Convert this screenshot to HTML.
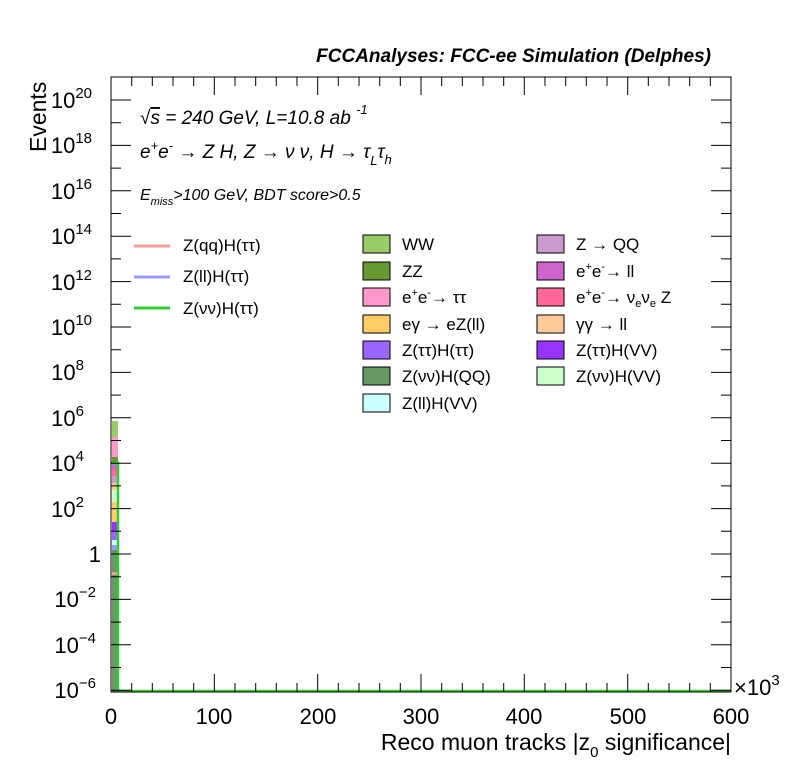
<!DOCTYPE html>
<html><head><meta charset="utf-8"><style>
body{margin:0;background:#fff;}
svg text{font-family:"Liberation Sans",sans-serif;}
</style></head><body>
<svg width="796" height="772" xmlns="http://www.w3.org/2000/svg">
<rect width="796" height="772" fill="#fff"/>
<g shape-rendering="crispEdges">
<rect x="112" y="421" width="6" height="16" fill="#99cc66"/>
<rect x="112" y="437" width="6" height="20" fill="#ff99cc"/>
<rect x="112" y="457" width="6" height="7" fill="#669933"/>
<rect x="112" y="464" width="6" height="6" fill="#cc66cc"/>
<rect x="112" y="470" width="6" height="6" fill="#ff6699"/>
<rect x="112" y="476" width="6" height="7" fill="#cc99cc"/>
<rect x="112" y="483" width="6" height="7" fill="#ffcc99"/>
<rect x="112" y="490" width="6" height="12" fill="#ccffcc"/>
<rect x="112" y="502" width="6" height="20" fill="#ffcc66"/>
<rect x="112" y="522" width="6" height="9" fill="#9933ff"/>
<rect x="112" y="531" width="6" height="9" fill="#9966ff"/>
<rect x="112" y="540" width="6" height="5" fill="#ccffff"/>
<rect x="112" y="545" width="6" height="5" fill="#9999ff"/>
<rect x="112" y="550" width="6" height="142" fill="#669966"/>
<rect x="112" y="572" width="5" height="3" fill="#ff9999"/>
</g>
<path d="M111 463 H118 V691 H731" fill="none" stroke="#33cc33" stroke-width="2.5"/>
<rect x="111" y="77" width="620" height="615" fill="none" stroke="#000" stroke-width="1"/>
<g stroke="#000" stroke-width="1">
<path d="M111 100h20M111 145.4h20M111 190.8h20M111 236.2h20M111 281.6h20M111 327h20M111 372.4h20M111 417.8h20M111 463.2h20M111 508.6h20M111 554h20M111 599.4h20M111 644.8h20M111 690.2h20
M111 122.7h10M111 168.1h10M111 213.5h10M111 258.9h10M111 304.3h10M111 349.7h10M111 395.1h10M111 440.5h10M111 485.9h10M111 531.3h10M111 576.7h10M111 622.1h10M111 667.5h10
M731 100h-20M731 145.4h-20M731 190.8h-20M731 236.2h-20M731 281.6h-20M731 327h-20M731 372.4h-20M731 417.8h-20M731 463.2h-20M731 508.6h-20M731 554h-20M731 599.4h-20M731 644.8h-20M731 690.2h-20
M731 122.7h-10M731 168.1h-10M731 213.5h-10M731 258.9h-10M731 304.3h-10M731 349.7h-10M731 395.1h-10M731 440.5h-10M731 485.9h-10M731 531.3h-10M731 576.7h-10M731 622.1h-10M731 667.5h-10"/>
<path d="M214.3 692v-18M317.7 692v-18M421 692v-18M524.3 692v-18M627.7 692v-18
M131.7 692v-9M152.3 692v-9M173 692v-9M193.7 692v-9M235 692v-9M255.7 692v-9M276.3 692v-9M297 692v-9M338.3 692v-9M359 692v-9M379.7 692v-9M400.3 692v-9M441.7 692v-9M462.3 692v-9M483 692v-9M503.7 692v-9M545 692v-9M565.7 692v-9M586.3 692v-9M607 692v-9M648.3 692v-9M669 692v-9M689.7 692v-9M710.3 692v-9
M214.3 77v18M317.7 77v18M421 77v18M524.3 77v18M627.7 77v18
M131.7 77v9M152.3 77v9M173 77v9M193.7 77v9M235 77v9M255.7 77v9M276.3 77v9M297 77v9M338.3 77v9M359 77v9M379.7 77v9M400.3 77v9M441.7 77v9M462.3 77v9M483 77v9M503.7 77v9M545 77v9M565.7 77v9M586.3 77v9M607 77v9M648.3 77v9M669 77v9M689.7 77v9M710.3 77v9"/>
</g>
<g font-size="22" text-anchor="end">
<text x="92" y="108">10<tspan font-size="15" dy="-10">20</tspan></text>
<text x="92" y="153">10<tspan font-size="15" dy="-10">18</tspan></text>
<text x="92" y="199">10<tspan font-size="15" dy="-10">16</tspan></text>
<text x="92" y="244">10<tspan font-size="15" dy="-10">14</tspan></text>
<text x="92" y="290">10<tspan font-size="15" dy="-10">12</tspan></text>
<text x="92" y="335">10<tspan font-size="15" dy="-10">10</tspan></text>
<text x="84" y="380">10<tspan font-size="15" dy="-10">8</tspan></text>
<text x="84" y="426">10<tspan font-size="15" dy="-10">6</tspan></text>
<text x="84" y="471">10<tspan font-size="15" dy="-10">4</tspan></text>
<text x="84" y="517">10<tspan font-size="15" dy="-10">2</tspan></text>
<text x="101" y="562">1</text>
<text x="96" y="607">10<tspan font-size="15" dy="-10">−2</tspan></text>
<text x="96" y="653">10<tspan font-size="15" dy="-10">−4</tspan></text>
<text x="96" y="698">10<tspan font-size="15" dy="-10">−6</tspan></text>
</g>
<g font-size="22" text-anchor="middle">
<text x="111" y="724">0</text><text x="214" y="724">100</text><text x="318" y="724">200</text><text x="421" y="724">300</text><text x="524" y="724">400</text><text x="628" y="724">500</text><text x="731" y="724">600</text>
</g>
<text x="734" y="695" font-size="22">×10<tspan font-size="15" dy="-10">3</tspan></text>
<text x="731" y="750" font-size="23" text-anchor="end">Reco muon tracks |z<tspan font-size="15" dy="7">0</tspan><tspan dy="-7"> significance|</tspan></text>
<text transform="translate(46,152) rotate(-90)" font-size="23">Events</text>
<text x="711" y="62" font-size="19" font-weight="bold" font-style="italic" text-anchor="end">FCCAnalyses: FCC-ee Simulation (Delphes)</text>
<g font-style="italic">
<text x="140" y="124" font-size="19">√<tspan text-decoration="overline">s</tspan> = 240 GeV, L=10.8 ab <tspan font-size="13" dy="-10">-1</tspan></text>
<text x="140" y="158" font-size="19">e<tspan font-size="13" dy="-8">+</tspan><tspan dy="8">e</tspan><tspan font-size="13" dy="-8">-</tspan><tspan dy="8"> → Z H, Z  → ν ν, H → τ</tspan><tspan font-size="13" dy="7">L</tspan><tspan dy="-7">τ</tspan><tspan font-size="13" dy="6">h</tspan></text>
<text x="140" y="200" font-size="16">E<tspan font-size="11" dy="5">miss</tspan><tspan dy="-5">&gt;100 GeV, BDT score&gt;0.5</tspan></text>
</g>
<g stroke-width="3">
<line x1="134" y1="246" x2="170" y2="246" stroke="#ff9999"/>
<line x1="134" y1="277" x2="170" y2="277" stroke="#9999ff"/>
<line x1="134" y1="308" x2="170" y2="308" stroke="#33cc33"/>
</g>
<g font-size="17">
<text x="183" y="251">Z(qq)H(ττ)</text>
<text x="183" y="282">Z(ll)H(ττ)</text>
<text x="183" y="314">Z(νν)H(ττ)</text>
</g>
<g stroke="#000" stroke-width="1" shape-rendering="crispEdges">
<rect x="363" y="235" width="27" height="18" fill="#99cc66"/>
<rect x="363" y="262" width="27" height="18" fill="#669933"/>
<rect x="363" y="288" width="27" height="18" fill="#ff99cc"/>
<rect x="363" y="315" width="27" height="18" fill="#ffcc66"/>
<rect x="363" y="341" width="27" height="18" fill="#9966ff"/>
<rect x="363" y="367" width="27" height="18" fill="#669966"/>
<rect x="363" y="394" width="27" height="18" fill="#ccffff"/>
<rect x="537" y="235" width="27" height="18" fill="#cc99cc"/>
<rect x="537" y="262" width="27" height="18" fill="#cc66cc"/>
<rect x="537" y="288" width="27" height="18" fill="#ff6699"/>
<rect x="537" y="315" width="27" height="18" fill="#ffcc99"/>
<rect x="537" y="341" width="27" height="18" fill="#9933ff"/>
<rect x="537" y="367" width="27" height="18" fill="#ccffcc"/>
</g>
<g font-size="17">
<text x="402" y="250">WW</text>
<text x="402" y="277">ZZ</text>
<text x="402" y="303">e<tspan font-size="11" dy="-7">+</tspan><tspan dy="7">e</tspan><tspan font-size="11" dy="-7">-</tspan><tspan dy="7">→ ττ</tspan></text>
<text x="402" y="330">eγ → eZ(ll)</text>
<text x="402" y="356">Z(ττ)H(ττ)</text>
<text x="402" y="382">Z(νν)H(QQ)</text>
<text x="402" y="409">Z(ll)H(VV)</text>
<text x="576" y="250">Z → QQ</text>
<text x="576" y="277">e<tspan font-size="11" dy="-7">+</tspan><tspan dy="7">e</tspan><tspan font-size="11" dy="-7">-</tspan><tspan dy="7">→ ll</tspan></text>
<text x="576" y="303">e<tspan font-size="11" dy="-7">+</tspan><tspan dy="7">e</tspan><tspan font-size="11" dy="-7">-</tspan><tspan dy="7">→ ν</tspan><tspan font-size="11" dy="4">e</tspan><tspan dy="-4">ν</tspan><tspan font-size="11" dy="4">e</tspan><tspan dy="-4"> Z</tspan></text>
<text x="576" y="330">γγ → ll</text>
<text x="576" y="356">Z(ττ)H(VV)</text>
<text x="576" y="382">Z(νν)H(VV)</text>
</g>
</svg>
</body></html>
